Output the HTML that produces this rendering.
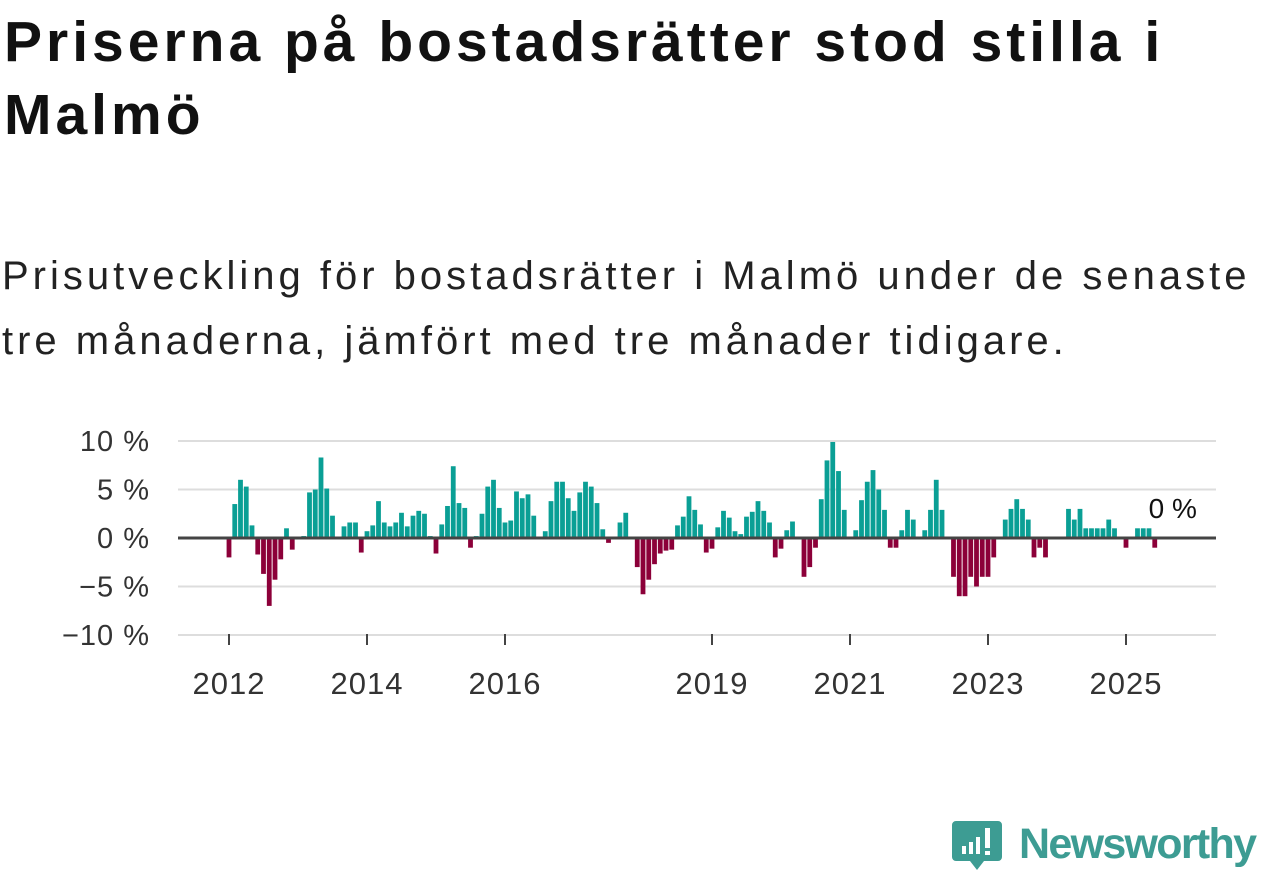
<!DOCTYPE html>
<html><head><meta charset="utf-8">
<style>
body{margin:0;width:1262px;height:879px;background:#fff;overflow:hidden;font-family:"Liberation Sans",sans-serif;}
.title{position:absolute;left:4px;top:6px;font-size:57px;font-weight:bold;line-height:73px;color:#111;width:1258px;letter-spacing:4px;white-space:nowrap;}
.sub{position:absolute;left:2px;top:244px;font-size:40px;line-height:65px;color:#222;width:1260px;letter-spacing:4px;white-space:nowrap;}
svg{position:absolute;left:0;top:0;}
</style></head><body>
<div class="title">Priserna på bostadsrätter stod stilla i<br>Malmö</div>
<div class="sub">Prisutveckling för bostadsrätter i Malmö under de senaste<br>tre månaderna, jämfört med tre månader tidigare.</div>
<svg id="chart" width="1262" height="879"></svg>
<script>
const values = [-2,3.5,6,5.3,1.3,-1.7,-3.7,-7,-4.3,-2.2,1,-1.2,0,0.2,4.7,5,8.3,5.1,2.3,0,1.2,1.6,1.6,-1.5,0.7,1.3,3.8,1.6,1.2,1.6,2.6,1.2,2.3,2.8,2.5,0.2,-1.6,1.4,3.3,7.4,3.6,3.1,-1,0.2,2.5,5.3,6,3.1,1.6,1.8,4.8,4.1,4.5,
2.3,0,0.7,3.8,5.8,5.8,4.1,2.8,4.7,5.8,5.3,3.6,0.9,-0.5,0.1,1.6,2.6,0,-3,-5.8,-4.3,-2.7,-1.6,-1.3,-1.2,1.3,2.2,4.3,2.9,1.4,-1.5,-1.1,1.1,2.8,2.1,0.7,0.4,2.2,2.7,3.8,2.8,1.6,-2,-1.1,0.8,1.7,0,-4,-3,-1,4,8,9.9,6.9,2.9,0,0.8,3.9,5.8,
7,5,2.9,-1,-1,0.8,2.9,1.9,0,0.8,2.9,6,2.9,0,-4,-6,-6,-4,-5,-4,-4,-2,0,1.9,3,4,3,1.9,-2,-1,-2,0,0,0,3,1.9,3,1,1,1,1,1.9,1,0,-1,0,1,1,1,-1];
const startYear = 2012;
const yTicks = [10,5,0,-5,-10];
const yTickLabels = ["10 %","5 %","0 %","−5 %","−10 %"];
const xTickYears = [2012,2014,2016,2019,2021,2023,2025];
const lastLabel = "0 %";

const NS="http://www.w3.org/2000/svg";
const svg=document.getElementById('chart');
const X0=178,X1=1216;
function xScale(i){return 229+i*5.75;}
function yScale(v){return 538-v*9.7;}
function mk(t,a){const e=document.createElementNS(NS,t);for(const k in a)e.setAttribute(k,a[k]);svg.appendChild(e);return e;}
yTicks.forEach((t,k)=>{
  if(t!==0){const l=mk('line',{x1:X0,x2:X1,y1:yScale(t),y2:yScale(t),stroke:'#ddd','stroke-width':2});
  
  }
  const tx=mk('text',{x:150,y:yScale(t)+10,'text-anchor':'end','font-size':29,fill:'#333','letter-spacing':1,'font-family':'Liberation Sans, sans-serif'});
  tx.textContent=yTickLabels[k];
  
  
});
values.forEach((v,i)=>{
  const y=yScale(Math.max(v,0)),h=Math.abs(yScale(v)-yScale(0));
  const r=mk('rect',{x:xScale(i)-2.4,y:y,width:4.8,height:h,fill:v>=0?'#0a9f95':'#8c0039'});
  
  
});
const z=mk('line',{x1:X0,x2:X1,y1:yScale(0),y2:yScale(0),stroke:'#444','stroke-width':3});


xTickYears.forEach(yr=>{
  const x=xScale((yr-startYear)*12);
  const t=mk('line',{x1:x,x2:x,y1:634,y2:645,stroke:'#444','stroke-width':2});
  
  
  const tx=mk('text',{x:x,y:694,'text-anchor':'middle','font-size':31,fill:'#333','letter-spacing':1,'font-family':'Liberation Sans, sans-serif'});
  tx.textContent=yr;
  
  
});
const lb=mk('text',{x:xScale(values.length-1)+18,y:518,'text-anchor':'middle','font-size':28,fill:'#111',stroke:'#fff','stroke-width':5,'paint-order':'stroke','font-family':'Liberation Sans, sans-serif'});
lb.textContent=lastLabel;


</script>
<svg width="1262" height="879">
<path d="M956 821 h42 a4 4 0 0 1 4 4 v32 a4 4 0 0 1 -4 4 h-14 l-7 9 l-7 -9 h-14 a4 4 0 0 1 -4 -4 v-32 a4 4 0 0 1 4 -4z" fill="#3d9c93"/>
<rect x="962" y="846" width="4" height="8" fill="#fff"/><rect x="969" y="842" width="4" height="12" fill="#fff"/><rect x="976" y="837" width="4" height="17" fill="#fff"/><rect x="985" y="828" width="5" height="20" fill="#fff"/><rect x="985" y="851" width="5" height="4" fill="#fff"/>
<text x="1019" y="858" font-size="43" font-weight="bold" fill="#3d9c93" font-family="Liberation Sans, sans-serif" textLength="238">Newsworthy</text>
</svg>
</body></html>
